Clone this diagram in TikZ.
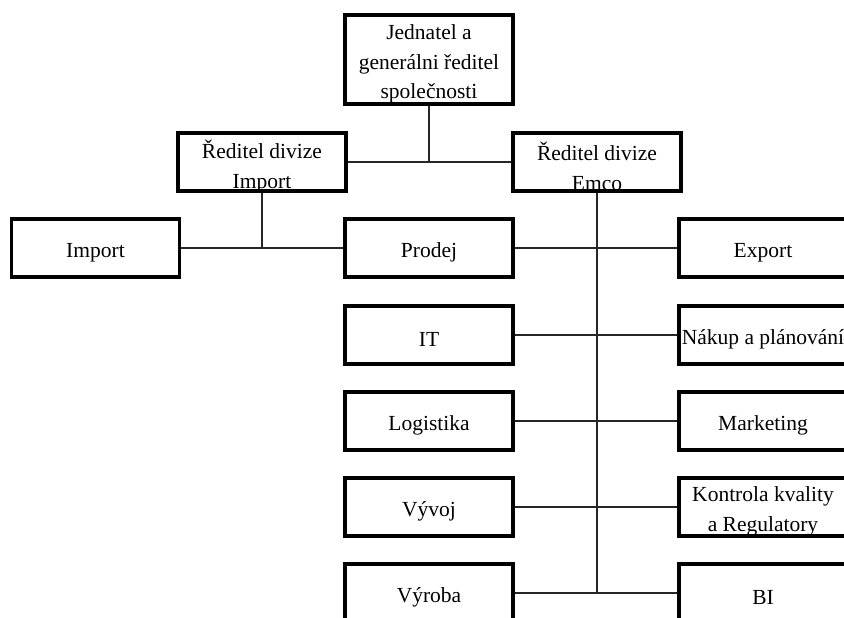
\documentclass[tikz,border=0pt]{standalone}
\usepackage{fontspec}
\setmainfont{Liberation Serif}
\begin{document}
\begin{tikzpicture}[x=1pt,y=-1pt,
  box/.style={draw=black, line width=3.2pt, minimum width=168pt, minimum height=58pt, inner sep=0pt},
  txt/.style={font=\fontsize{21.5}{29.5}\selectfont, align=center, inner sep=0pt, text=black},
  conn/.style={draw=black!85, line width=1.5pt}]
\useasboundingbox (0,0) rectangle (844,618);
\clip (0,0) rectangle (844,618);
% boxes
\node[box, minimum height=89pt] (top) at (429,59.5) {};
\node[box] (dirI) at (262,162) {};
\node[box] (dirE) at (597,162) {};
\node[box] (imp) at (95.5,248) {};
\node[box] (prodej) at (429,248) {};
\node[box] (export) at (763,248) {};
\node[box] (it) at (429,335) {};
\node[box] (nakup) at (763,335) {};
\node[box] (log) at (429,421) {};
\node[box] (mkt) at (763,421) {};
\node[box] (vyvoj) at (429,507) {};
\node[box] (kontr) at (763,507) {};
\node[box] (vyroba) at (429,593) {};
\node[box] (bi) at (763,593) {};
% texts
\node[txt] (topt) at ([yshift=-4.5pt]top.center) {Jednatel a\\generálni ředitel\\společnosti};
\node[txt] (dirIt) at ([yshift=-4.5pt]dirI.center) {Ředitel divize\\Import};
\node[txt] (dirEt) at ([yshift=-4.5pt]dirE.center) {Ředitel divize\\Emco};
\node[txt] (impt) at ([yshift=-4.5pt]imp.center) {Import};
\node[txt] (prodejt) at ([yshift=-4.5pt]prodej.center) {Prodej};
\node[txt] (exportt) at ([yshift=-4.5pt]export.center) {Export};
\node[txt] (itt) at ([yshift=-4.5pt]it.center) {IT};
\node[txt] (nakupt) at ([yshift=-4.5pt]nakup.center) {Nákup a plánování};
\node[txt] (logt) at ([yshift=-4.5pt]log.center) {Logistika};
\node[txt] (mktt) at ([yshift=-4.5pt]mkt.center) {Marketing};
\node[txt] (vyvojt) at ([yshift=-4.5pt]vyvoj.center) {Vývoj};
\node[txt] (kontrt) at ([yshift=-4.5pt]kontr.center) {Kontrola kvality\\a Regulatory};
\node[txt] (vyrobat) at ([yshift=-4.5pt]vyroba.center) {Výroba};
\node[txt] (bit) at ([yshift=-4.5pt]bi.center) {BI};
% connectors
\draw[conn] (top.south) -- (top.south |- dirI.east);
\draw[conn] (dirI.east) -- (dirE.west);
\draw[conn] (dirI.south) -- (dirI.south |- imp.east);
\draw[conn] (imp.east) -- (prodej.west);
\draw[conn] (dirE.south) -- (dirE.south |- bi.west);
\draw[conn] (prodej.east) -- (export.west);
\draw[conn] (it.east) -- (nakup.west);
\draw[conn] (log.east) -- (mkt.west);
\draw[conn] (vyvoj.east) -- (kontr.west);
\draw[conn] (vyroba.east) -- (bi.west);
\end{tikzpicture}
\end{document}
